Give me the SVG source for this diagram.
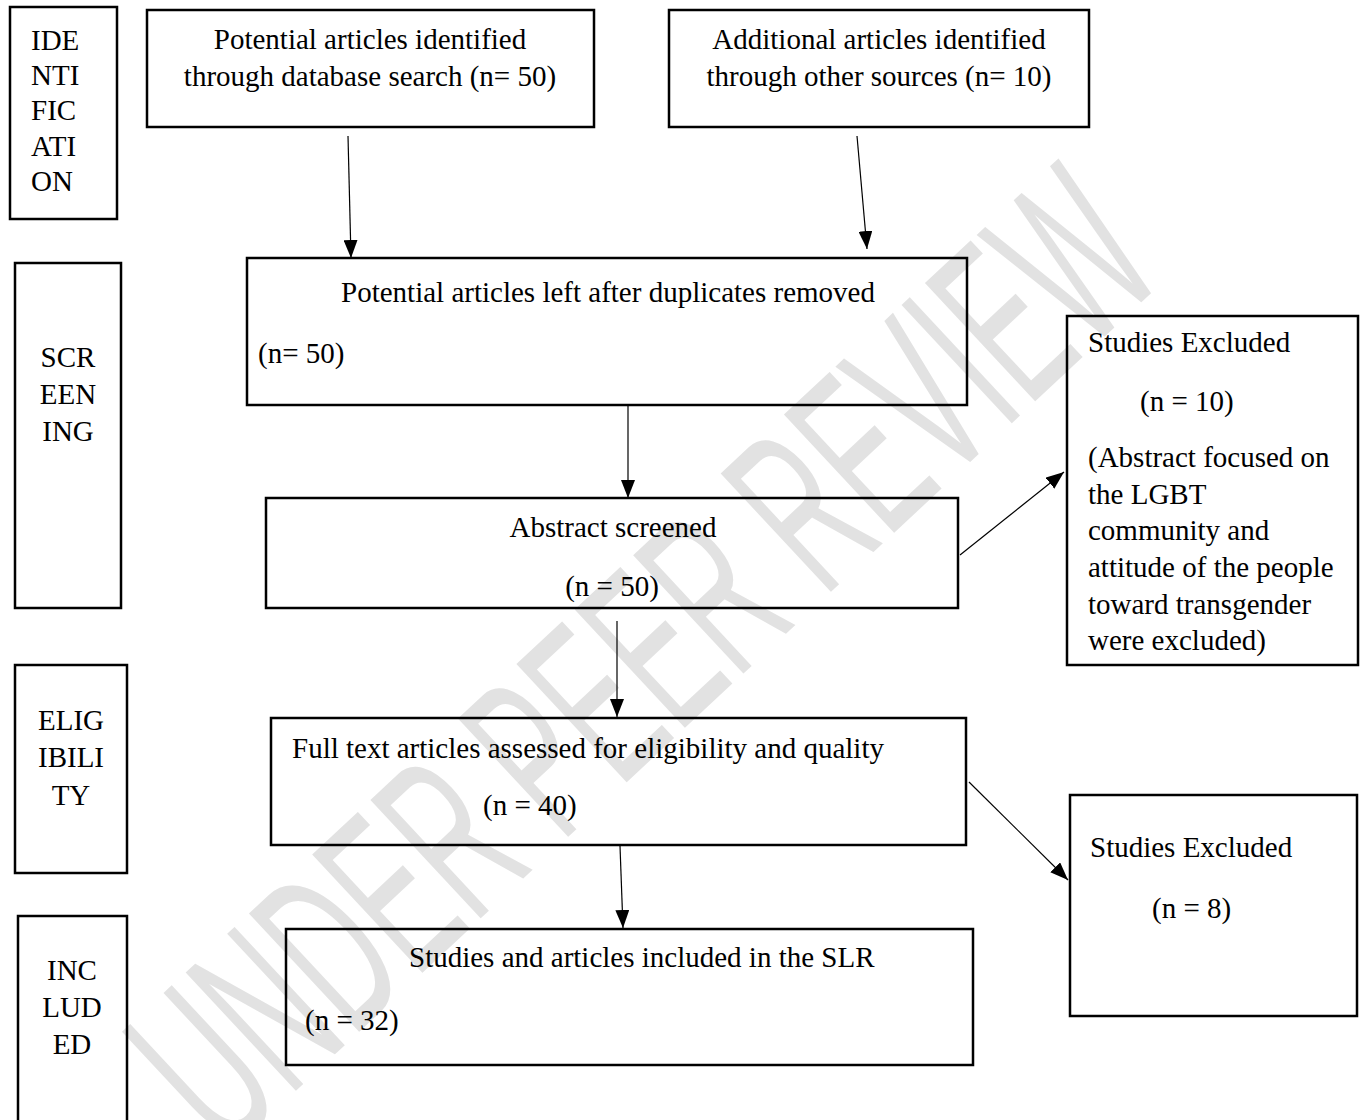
<svg xmlns="http://www.w3.org/2000/svg" width="1364" height="1120" viewBox="0 0 1364 1120">
<style>
.box{fill:none;stroke:#000;stroke-width:2.5}
.t{font-family:"Liberation Serif","Times New Roman",serif;font-size:29px;fill:#000}
.m{text-anchor:middle}
.c{stroke:#000;stroke-width:1.2;fill:none}
.wm{font-family:"Liberation Sans",Arial,sans-serif;font-size:235px;fill:#e2e2e2}
</style>
<defs>
<marker id="ah" markerUnits="userSpaceOnUse" markerWidth="20" markerHeight="14" refX="18" refY="7" orient="auto">
<path d="M0,0 L18,7 L0,14 Z" fill="#000"/>
</marker>
</defs>
<rect width="1364" height="1120" fill="#fff"/>
<g id="watermark">
<text class="wm" transform="translate(640,655) rotate(-43)" x="0" y="84" text-anchor="middle" textLength="1290" lengthAdjust="spacingAndGlyphs">UNDER PEER REVIEW</text>
</g>
<g id="stage-identification">
<rect class="box" x="10" y="7" width="107" height="212"/>
<text class="t" x="31" y="50">IDE</text>
<text class="t" x="31" y="85">NTI</text>
<text class="t" x="31" y="120">FIC</text>
<text class="t" x="31" y="156">ATI</text>
<text class="t" x="31" y="191">ON</text>
</g>
<g id="stage-screening">
<rect class="box" x="15" y="263" width="106" height="345"/>
<text class="t m" x="68" y="367">SCR</text>
<text class="t m" x="68" y="404">EEN</text>
<text class="t m" x="68" y="441">ING</text>
</g>
<g id="stage-eligibility">
<rect class="box" x="15" y="665" width="112" height="208"/>
<text class="t m" x="71" y="730">ELIG</text>
<text class="t m" x="71" y="767">IBILI</text>
<text class="t m" x="71" y="805">TY</text>
</g>
<g id="stage-included">
<rect class="box" x="18" y="916" width="109" height="210"/>
<text class="t m" x="72" y="980">INC</text>
<text class="t m" x="72" y="1017">LUD</text>
<text class="t m" x="72" y="1054">ED</text>
</g>
<g id="database-search">
<rect class="box" x="147" y="10" width="447" height="117"/>
<text class="t m" x="370" y="49">Potential articles identified</text>
<text class="t m" x="370" y="86">through database search (n= 50)</text>
</g>
<g id="other-sources">
<rect class="box" x="669" y="10" width="420" height="117"/>
<text class="t m" x="879" y="49">Additional articles identified</text>
<text class="t m" x="879" y="86">through other sources (n= 10)</text>
</g>
<g id="duplicates-removed">
<rect class="box" x="247" y="258" width="720" height="147"/>
<text class="t m" x="608" y="302">Potential articles left after duplicates removed</text>
<text class="t" x="258" y="363">(n= 50)</text>
</g>
<g id="abstract-screened">
<rect class="box" x="266" y="498" width="692" height="110"/>
<text class="t m" x="613" y="537">Abstract screened</text>
<text class="t m" x="612" y="596">(n = 50)</text>
</g>
<g id="excluded-abstract">
<rect class="box" x="1067" y="316" width="291" height="349"/>
<text class="t" x="1088" y="352">Studies Excluded</text>
<text class="t" x="1140" y="411">(n = 10)</text>
<text class="t" x="1088" y="467">(Abstract focused on</text>
<text class="t" x="1088" y="504">the LGBT</text>
<text class="t" x="1088" y="540">community and</text>
<text class="t" x="1088" y="577">attitude of the people</text>
<text class="t" x="1088" y="614">toward transgender</text>
<text class="t" x="1088" y="650">were excluded)</text>
</g>
<g id="full-text">
<rect class="box" x="271" y="718" width="695" height="127"/>
<text class="t" x="292" y="758">Full text articles assessed for eligibility and quality</text>
<text class="t" x="483" y="815">(n = 40)</text>
</g>
<g id="excluded-fulltext">
<rect class="box" x="1070" y="795" width="287" height="221"/>
<text class="t" x="1090" y="857">Studies Excluded</text>
<text class="t" x="1152" y="918">(n = 8)</text>
</g>
<g id="included-slr">
<rect class="box" x="286" y="929" width="687" height="136"/>
<text class="t" x="409" y="967">Studies and articles included in the SLR</text>
<text class="t" x="305" y="1030">(n = 32)</text>
</g>
<g id="connectors">
<line class="c" x1="348" y1="136" x2="351" y2="258" marker-end="url(#ah)"/>
<line class="c" x1="857" y1="136" x2="867" y2="249" marker-end="url(#ah)"/>
<line class="c" x1="628" y1="406" x2="628" y2="498" marker-end="url(#ah)"/>
<line class="c" x1="960" y1="555" x2="1064" y2="472" marker-end="url(#ah)"/>
<line class="c" x1="617" y1="621" x2="617" y2="717" marker-end="url(#ah)"/>
<line class="c" x1="620" y1="846" x2="623" y2="928" marker-end="url(#ah)"/>
<line class="c" x1="969" y1="782" x2="1068" y2="880" marker-end="url(#ah)"/>
</g>
</svg>
